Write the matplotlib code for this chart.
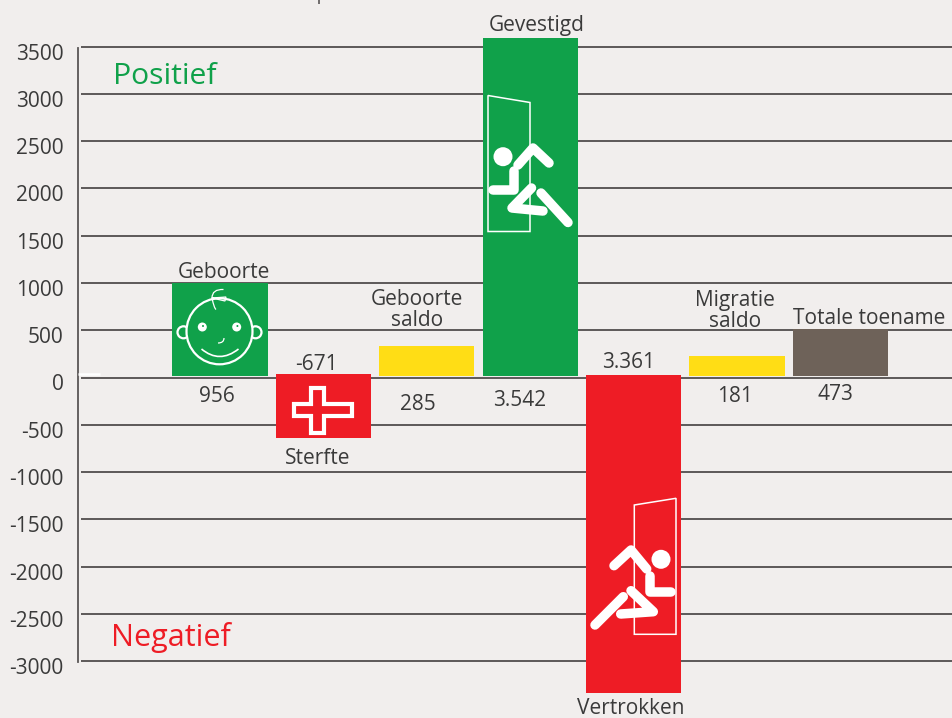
import matplotlib
matplotlib.use('Agg')
import matplotlib.pyplot as plt
from matplotlib.patches import Circle, Polygon, PathPatch
from matplotlib.path import Path
from matplotlib.transforms import ScaledTranslation

plt.rcParams['font.family'] = 'Open Sans'

# bar ends as drawn in the picture (they sit a little off the printed numbers)
categories = ['Geboorte', 'Sterfte', 'Geboorte\nsaldo', 'Gevestigd', 'Vertrokken', 'Migratie\nsaldo', 'Totale toename']
bar_tops = [1000, 37, 333, 3591, 26, 227, 513]
bar_bottoms = [15, -640, 15, 15, -3337, 15, 15]
value_labels = ['956', '-671', '285', '3.542', '3.361', '181', '473']
y_ticks = [3500, 3000, 2500, 2000, 1500, 1000, 500, 0, -500, -1000, -1500, -2000, -2500, -3000]

GREEN = '#10a14a'
RED = '#ee1c25'
YELLOW = '#ffdd15'
BROWN = '#6e6259'
BG = '#f1eeed'
TEXT = '#3a3a3a'
bar_colors = [GREEN, RED, YELLOW, GREEN, RED, YELLOW, BROWN]

fig = plt.figure(figsize=(9.53, 7.18), dpi=100, facecolor=BG)
ax = fig.add_axes([81 / 953, 0, 872 / 953, 1], facecolor=BG)

ax.set_xlim((81 - 220) / 103.4, (953 - 220) / 103.4)
ax.set_ylim(-(718 - 377.5) / 0.09454, 377.5 / 0.09454)

ax.hlines(y_ticks, 0, 1, transform=ax.get_yaxis_transform(), color='#4a4646', lw=1.25, zorder=1)

for i in range(len(categories)):
    ax.bar(i, bar_tops[i] - bar_bottoms[i], bottom=bar_bottoms[i], width=0.92,
           color=bar_colors[i], zorder=2)

for name in ['top', 'right', 'bottom']:
    ax.spines[name].set_visible(False)
ax.spines['left'].set_position(('outward', 2))
ax.spines['left'].set_bounds(-3010, 3490)
ax.spines['left'].set_color('#5a5656')
ax.spines['left'].set_linewidth(1.3)

ax.set_xticks([])
ax.set_yticks(y_ticks)
ax.set_yticklabels([str(t) for t in y_ticks], fontsize=15, color=TEXT)
ax.tick_params(axis='y', length=0, pad=10.5)
shift = ScaledTranslation(0, -5 / 100, fig.dpi_scale_trans)
for label in ax.get_yticklabels():
    label.set_transform(label.get_transform() + shift)

# everything below is placed in picture pixels
over = fig.add_axes([0, 0, 1, 1], facecolor='none')
over.set_xlim(0, 953)
over.set_ylim(718, 0)
over.axis('off')

name_pos = [(224, 273), (318, 459), (417, 310), (537, 26), (631, 709), (735, 311), (869, 318)]
value_pos = [(217, 397), (316, 365), (418, 404), (520, 400), (629, 363), (735, 396), (835, 395)]
for text, (x, y) in zip(categories, name_pos):
    over.text(x, y, text, ha='center', va='center', fontsize=15, color=TEXT, linespacing=1.0)
for text, (x, y) in zip(value_labels, value_pos):
    over.text(x, y, text, ha='center', va='center', fontsize=15, color=TEXT)

over.text(113, 84, 'Positief', color=GREEN, fontsize=21.7, ha='left', va='baseline')
over.text(111.5, 646, 'Negatief', color=RED, fontsize=22, ha='left', va='baseline')

# stub of the cropped title at the top edge
over.plot([319, 319], [0, 3.5], color='#5a5656', lw=1.2, solid_capstyle='butt')

# small white dash just above the zero line
over.plot([78, 100], [374, 374], color='white', lw=1.8, solid_capstyle='butt')


def stroke(points, lw=9.5):
    xs = [p[0] for p in points]
    ys = [p[1] for p in points]
    over.plot(xs, ys, color='white', lw=lw * 0.72, solid_capstyle='round', solid_joinstyle='round')


def curve(points, codes, lw=1.2):
    over.add_patch(PathPatch(Path(points, codes), fc='none', ec='white', lw=lw))


# door and runner on Gevestigd
over.add_patch(Polygon([(488, 95.5), (530, 102.5), (530, 231.5), (488, 231.5)], closed=True, fc='none', ec='white', lw=1.1))
over.add_patch(Circle((503, 156.7), 9.5, fc='white', ec='none'))
stroke([(514, 171), (514, 190), (493, 190)])
stroke([(518, 165), (533, 148), (549, 163)])
stroke([(531.5, 188), (512, 208), (543, 211)])
stroke([(541, 193), (568, 222.5)])

# door and runner on Vertrokken
over.add_patch(Polygon([(634.3, 505), (676, 498.3), (676, 634.3), (634.3, 634.3)], closed=True, fc='none', ec='white', lw=1.1))
over.add_patch(Circle((661, 559.3), 9.5, fc='white', ec='none'))
stroke([(650, 576), (650, 592.3), (671.5, 592.3)])
stroke([(614, 565.7), (631, 550), (646.7, 569)])
stroke([(631, 590.7), (653.3, 611.7), (620.7, 614)])
stroke([(623.3, 596.7), (595, 625)])

# baby face on Geboorte
over.add_patch(Circle((183.5, 332.3), 6, fc='none', ec='white', lw=1.6))
over.add_patch(Circle((255.5, 332.3), 6, fc='none', ec='white', lw=1.6))
over.add_patch(Circle((219.5, 331.3), 33, fc=GREEN, ec='white', lw=1.6))
over.add_patch(Circle((202.3, 327), 4.5, fc='white', ec='none'))
over.add_patch(Circle((236.7, 327), 4.5, fc='white', ec='none'))
over.add_patch(Circle((203, 326), 1, fc=GREEN, ec='none'))
over.add_patch(Circle((237.4, 326), 1, fc=GREEN, ec='none'))
curve([(201.5, 349), (219.5, 364), (238.5, 349)], [Path.MOVETO, Path.CURVE3, Path.CURVE3])
curve([(218, 343), (224, 343), (224, 338)], [Path.MOVETO, Path.CURVE3, Path.CURVE3], lw=0.9)
curve([(223.5, 289.5), (212, 289), (212, 298), (225, 301), (226, 297), (212, 298), (214, 308), (216, 309.5)],
      [Path.MOVETO, Path.CURVE3, Path.CURVE3, Path.LINETO, Path.LINETO, Path.LINETO, Path.CURVE3, Path.CURVE3], lw=0.9)

# cross on Sterfte
over.add_patch(Polygon([(311, 387.7), (323.7, 387.7), (323.7, 403.7), (352.3, 403.7), (352.3, 416.3), (323.7, 416.3),
                        (323.7, 433), (311, 433), (311, 416.3), (294.3, 416.3), (294.3, 403.7), (311, 403.7)],
                       closed=True, fc=RED, ec='white', lw=3))

fig.savefig('out.png', dpi=100, facecolor=BG)
